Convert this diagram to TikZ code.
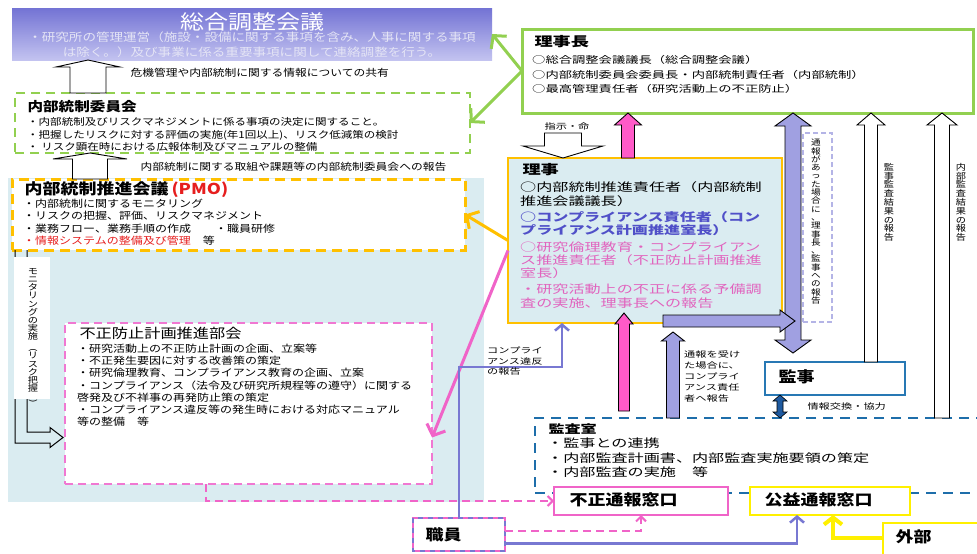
\documentclass[tikz,border=0pt]{standalone}
\usepackage{fontspec}
\usepackage{graphicx}
\setmainfont{Noto Sans CJK JP}[FakeStretch=1.2]
\newfontfamily\mincho{Noto Sans CJK JP}[FakeStretch=1.4]
\usetikzlibrary{arrows.meta, calc}

\definecolor{grn}{RGB}{146,208,80}
\definecolor{gold}{RGB}{255,192,0}
\definecolor{pnk}{RGB}{240,100,200}
\definecolor{pnkbox}{RGB}{240,120,210}
\definecolor{pinkfill}{RGB}{255,90,200}
\definecolor{purp}{RGB}{120,120,210}
\definecolor{purpfill}{RGB}{160,160,225}
\definecolor{lblue}{RGB}{218,236,241}
\definecolor{ablue}{RGB}{30,110,170}
\definecolor{kblue}{RGB}{40,120,180}
\definecolor{lav}{RGB}{180,180,230}
\definecolor{ylw}{RGB}{255,240,0}
\definecolor{pmored}{RGB}{230,30,30}
\definecolor{rblue}{RGB}{80,80,200}
\definecolor{rpink}{RGB}{225,100,190}
\definecolor{dblue}{RGB}{30,90,160}
\definecolor{sogotop}{RGB}{115,115,212}
\definecolor{sogobot}{RGB}{195,195,240}
\definecolor{sogotxt}{RGB}{228,228,245}

\ExplSyntaxOn
\NewDocumentCommand\tate{m}{\vbox{\tl_map_inline:nn{#1}{\hbox_to_wd:nn{1.2em}{\hfil##1\hfil}}}}
\ExplSyntaxOff

\newcommand\blockarrow[6][]{%
  \draw[#1] let \p1=#2, \p2=#3, \n1={2*(\y2>\y1)-1} in
    (\x1-#4,\y1) -- (\x1-#4,\y2-\n1*#6) -- (\x1-#5,\y2-\n1*#6) -- (\x1,\y2)
    -- (\x1+#5,\y2-\n1*#6) -- (\x1+#4,\y2-\n1*#6) -- (\x1+#4,\y1) -- cycle;}
\newcommand\dblarrow[6][]{%
  \draw[#1] let \p1=#2, \p2=#3, \n1={2*(\y2>\y1)-1} in
    (\x1,\y1) -- (\x1-#5,\y1+\n1*#6) -- (\x1-#4,\y1+\n1*#6) -- (\x1-#4,\y2-\n1*#6)
    -- (\x1-#5,\y2-\n1*#6) -- (\x1,\y2) -- (\x1+#5,\y2-\n1*#6) -- (\x1+#4,\y2-\n1*#6)
    -- (\x1+#4,\y1+\n1*#6) -- (\x1+#5,\y1+\n1*#6) -- cycle;}

\tikzset{
  box/.style={anchor=north west, inner sep=0pt, outer sep=0pt},
  txt/.style={anchor=north west, inner sep=0pt, align=left},
  hollow/.style={draw=black, fill=white, line width=0.9pt},
  pinkarr/.style={draw=black, fill=pinkfill, line width=0.9pt},
  purparr/.style={draw=black, fill=purpfill, line width=0.9pt},
  grnline/.style={draw=grn, line width=3pt, -{Straight Barb[length=9pt,width=20pt]}},
  purline/.style={draw=purp, line width=2.5pt, -{Straight Barb[length=6pt,width=14pt]}},
  pdash/.style={draw=pnk, line width=2pt, dash pattern=on 8pt off 5pt, -{Straight Barb[length=5pt,width=10pt]}},
  small/.style={font=\mincho\fontsize{8}{10.8}\selectfont},
  title/.style={anchor=west, font=\bfseries\fontsize{15}{17}\selectfont}
}

\begin{document}
\begin{tikzpicture}[x=1pt, y=-1pt, font=\fontsize{10}{12.5}\selectfont]
\clip (0,0) rectangle (977,554);
\fill[white] (0,0) rectangle (977,554);

\node[box, minimum width=480pt, minimum height=52pt, top color=sogotop, bottom color=sogobot] (sogo) at (12,8) {};
\node[text=white, font=\fontsize{20}{24}\selectfont] (sogo-t) at (252,22) {総合調整会議};
\node[align=center, text=sogotxt, font=\fontsize{11.3}{15}\selectfont] (sogo-s) at (252,45)
  {・研究所の管理運営（施設・設備に関する事項を含み、人事に関する事項\\は除く。）及び事業に係る重要事項に関して連絡調整を行う。};

\node[box, draw=grn, dash pattern=on 9pt off 6pt, line width=2.5pt, minimum width=455pt, minimum height=60pt] (iinkai) at (15,93) {};
\node[anchor=west, font=\bfseries\fontsize{13}{15}\selectfont] (iinkai-h) at (24,107) {内部統制委員会};
\node[txt, font=\fontsize{9.6}{12.3}\selectfont] (iinkai-b) at (27,117.5)
  {・内部統制及びリスクマネジメントに係る事項の決定に関すること。\\
   ・把握したリスクに対する評価の実施(年1回以上)、リスク低減策の検討\\
   ・ リスク顕在時における広報体制及びマニュアルの整備};

\blockarrow[hollow]{(88,0 |- iinkai.north)}{(88,0 |- sogo.south)}{18pt}{32pt}{7pt}
\node[anchor=west, font=\fontsize{9.8}{12}\selectfont] (kyoyu) at (127,73) {危機管理や内部統制に関する情報についての共有};

\node[box, fill=lblue, minimum width=476pt, minimum height=324pt] (bg) at (8,178) {};
\node[box, fill=white, draw=gold, dash pattern=on 10pt off 6pt, line width=3pt, minimum width=453pt, minimum height=71pt] (pmo) at (12,179) {};
\node[title] (pmo-h) at (21,190) {内部統制推進会議\hspace{3pt}{\color{pmored}(PMO)}};
\node[txt] (pmo-b) at (23,198.5)
  {・内部統制に関するモニタリング\\
   ・リスクの把握、評価、リスクマネジメント\\
   ・業務フロー、業務手順の作成　　・職員研修\\
   {\color{pmored}・情報システムの整備及び管理}　等};

\blockarrow[hollow]{(90,0 |- pmo.north)}{(90,0 |- iinkai.south)}{17.5pt}{37pt}{6pt}
\node[anchor=west, font=\fontsize{9.8}{12}\selectfont] (hokoku) at (137,167) {内部統制に関する取組や課題等の内部統制委員会への報告};

\draw[line width=1pt] (15,250) -- (15,443) -- (50,443) -- (50,447.5) -- (63,437.5) -- (50,427.5) -- (50,432) -- (27,432) -- (27,250);
\node[box, fill=white, minimum width=36pt, minimum height=142pt] (strip) at (14,257) {};
\node[anchor=north, inner sep=0pt, font=\fontsize{8.5}{8.2}\selectfont] (strip-t) at (33,268)
  {\tate{モニタリングの実施{\rotatebox{-90}{(}}リスク把握{\rotatebox{-90}{)}}}};

\node[box, fill=white, draw=pnkbox, dash pattern=on 8pt off 5pt, line width=2pt, minimum width=367pt, minimum height=161pt] (fusei) at (65,323) {};
\node[anchor=west, font=\fontsize{13.5}{15}\selectfont] (fusei-h) at (76,333) {不正防止計画推進部会};
\node[txt, font=\fontsize{10}{12.3}\selectfont] (fusei-b) at (77,343.5)
  {・研究活動上の不正防止計画の企画、立案等\\
   ・不正発生要因に対する改善策の策定\\
   ・研究倫理教育、コンプライアンス教育の企画、立案\\
   ・コンプライアンス（法令及び研究所規程等の遵守）に関する\\
   啓発及び不祥事の再発防止策の策定\\
   ・コンプライアンス違反等の発生時における対応マニュアル\\
   等の整備　等};

\node[box, fill=white, draw=grn, line width=3pt, minimum width=451pt, minimum height=84pt] (rijicho) at (522,29) {};
\node[anchor=west, font=\mincho\bfseries\fontsize{13}{15}\selectfont] (rijicho-h) at (531,42) {理事長};
\node[txt, font=\mincho\fontsize{9.5}{14.5}\selectfont] (rijicho-b) at (532,55.5)
  {○総合調整会議議長（総合調整会議）\\
   ○内部統制委員会委員長・内部統制責任者（内部統制）\\
   ○最高管理責任者（研究活動上の不正防止）};

\node[box, fill=lblue, draw=gold, line width=2.5pt, minimum width=274pt, minimum height=165pt] (riji) at (508,158) {};
\node[anchor=west, font=\mincho\bfseries\fontsize{13}{15}\selectfont] (riji-h) at (519,170) {理事};
\node[txt, font=\mincho\fontsize{11.5}{13.3}\selectfont] (riji-b) at (520,181.8)
  {○内部統制推進責任者（内部統制\\
   推進会議議長）\\[3pt]
   \textcolor{rblue}{\bfseries ○コンプライアンス責任者（コン}\\
   \textcolor{rblue}{\bfseries プライアンス計画推進室長）}\\[3pt]
   \textcolor{rpink}{○研究倫理教育・コンプライアン}\\
   \textcolor{rpink}{ス推進責任者（不正防止計画推進}\\
   \textcolor{rpink}{室長）}\\[3pt]
   \textcolor{rpink}{・研究活動上の不正に係る予備調}\\
   \textcolor{rpink}{査の実施、理事長への報告}};

\node[small] (shiji) at (567,126) {指示・命};
\blockarrow[hollow]{(563,133)}{(563,0 |- riji.north)}{18.5pt}{40pt}{12pt}
\blockarrow[pinkarr]{(628,0 |- riji.north)}{(628,0 |- rijicho.south)}{6.5pt}{13.5pt}{12pt}

\node[box, draw=lav, dash pattern=on 5pt off 3pt, line width=2pt, minimum width=29pt, minimum height=189pt] (tsuho) at (803,133) {};
\node[anchor=north, inner sep=0pt, font=\fontsize{8}{8.3}\selectfont] (tsuho-t) at (816,139)
  {\tate{通報があった場合に、理事長、監事への報告}};

\node[box, fill=white, draw=kblue, line width=2.5pt, minimum width=140pt, minimum height=33pt] (kanji) at (765,362) {};
\node[title] (kanji-t) at (775,377) {監事};

\node[box, draw=ablue, dash pattern=on 10pt off 7pt, line width=2.5pt, minimum width=460pt, minimum height=75pt] (kansa) at (535,418) {};
\node[anchor=west, font=\mincho\bfseries\fontsize{11.5}{14}\selectfont] (kansa-h) at (545,429) {監査室};
\node[txt, font=\mincho\fontsize{11.5}{14.5}\selectfont] (kansa-b) at (547,437.8)
  {・監事との連携\\
   ・内部監査計画書、内部監査実施要領の策定\\
   ・内部監査の実施　等};

\dblarrow[purparr]{(793,0 |- rijicho.south)}{(793,353)}{8pt}{18pt}{13pt}
\draw[purparr] (663,315) -- (780,315) -- (780,310) -- (795,321) -- (780,332) -- (780,327) -- (663,327) -- cycle;
\blockarrow[pinkarr]{(624,411)}{(624,313)}{5.5pt}{9pt}{11pt}
\blockarrow[purparr]{(673,0 |- kansa.north)}{(673,332)}{6.5pt}{11.5pt}{9pt}
\dblarrow[draw=black, fill=dblue, line width=0.6pt]{(780,0 |- kanji.south)}{(780,0 |- kansa.north)}{3pt}{7pt}{6pt}
\blockarrow[hollow]{(871,0 |- kanji.north)}{(871,0 |- rijicho.south)}{6.5pt}{14pt}{12pt}
\blockarrow[hollow]{(942,0 |- kansa.north)}{(942,0 |- rijicho.south)}{7.5pt}{15pt}{12pt}
\node[anchor=north, inner sep=0pt, font=\fontsize{8.5}{8.8}\selectfont] (kanjihokoku) at (889,163) {\tate{監事監査結果の報告}};
\node[anchor=north, inner sep=0pt, font=\fontsize{8.5}{8.8}\selectfont] (naibuhokoku) at (961,163) {\tate{内部監査結果の報告}};

\node[txt, small] (tsuhoukeru) at (684,351) {通報を受け\\た場合に、\\コンプライ\\アンス責任\\者へ報告};
\node[anchor=west, small] (johokokan) at (804,406) {情報交換・協力};

\node[box, fill=white, draw=pnk, line width=2.5pt, minimum width=174pt, minimum height=28pt] (fuseimado) at (554,487) {};
\node[title] (fuseimado-t) at (566,500) {不正通報窓口};
\node[box, fill=white, draw=ylw, line width=2.5pt, minimum width=160pt, minimum height=28pt] (koekimado) at (750,487) {};
\node[title] (koekimado-t) at (761,500) {公益通報窓口};
\node[box, fill=white, draw=ylw, line width=2.5pt, minimum width=110pt, minimum height=45pt] (gaibu) at (883,523) {};
\node[title] (gaibu-t) at (892,537) {外部};
\node[box, fill=white, draw=pnk, line width=2pt, minimum width=92pt, minimum height=33pt] (shokuin) at (413,518) {};
\draw[purp, line width=2pt, dash pattern=on 5pt off 5pt] (shokuin.north west) rectangle (shokuin.south east);
\node[title] (shokuin-t) at (422,535) {職員};

\draw[grnline] (rijicho.west) -- (sogo.east);
\draw[grnline] (rijicho.west) -- (iinkai.east);
\draw[grnline, draw=gold] (riji.west) -- (pmo.east);
\draw[grnline, draw=pnk] ([yshift=-10pt]riji.west) -- ([yshift=-34pt]fusei.east);

\coordinate (turn) at (562,367);
\draw[purline] (shokuin.north) |- (turn) -- (turn |- riji.south);
\node[txt, small, font=\mincho\fontsize{8}{10.5}\selectfont] (ihan) at (487,347) {コンプライ\\アンス違反\\の報告};
\draw[pdash] (206,0 |- fusei.south) |- (fuseimado.west);
\draw[pdash] ([yshift=4pt]shokuin.east) -| (fuseimado.south);
\draw[purline] ([yshift=-9pt]shokuin.east) -| ([xshift=-33pt]koekimado.south);
\draw[draw=ylw, line width=4pt, -{Straight Barb[length=7pt,width=18pt]}] ([yshift=8pt]gaibu.west) -| ([xshift=3pt]koekimado.south);
\end{tikzpicture}
\end{document}
